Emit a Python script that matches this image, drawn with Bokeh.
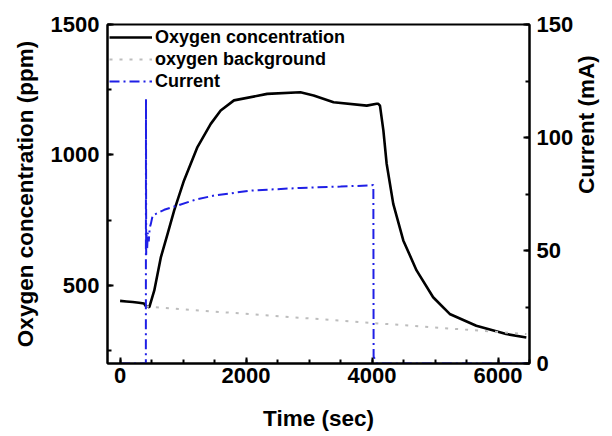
import math
from bokeh.plotting import figure
from bokeh.models import Range1d, LinearAxis, SingleIntervalTicker, Legend, LegendItem
from bokeh.embed import file_html
from bokeh.resources import INLINE

# ---- data ----
oxy_t = [0, 100, 200, 300, 380, 410, 464, 543, 648, 754, 859, 1015, 1228, 1439, 1597, 1808,
         2335, 2862, 3073, 3389, 3916, 4074, 4099, 4126, 4180, 4232, 4337, 4496, 4707, 4970,
         5233, 5655, 6130, 6450]
oxy_ppm = [440, 438, 436, 433, 430, 420, 416, 480, 608, 697, 787, 902, 1030, 1119, 1170, 1209,
           1234, 1240, 1228, 1202, 1189, 1196, 1196, 1189, 1094, 966, 812, 672, 557, 454,
           390, 345, 313, 300]

bg_t = [410, 6450]
bg_ppm = [418, 313]

cur_t = [0, 405, 409, 411, 414, 420, 430, 440, 455, 470, 490, 517, 700, 912, 1200, 1491,
         2071, 2335, 2862, 3500, 3968, 4021, 4025, 4080, 6450]
cur_mA = [0, 0, 0, 117, 48, 57, 51, 58, 54, 60, 62, 65.5, 68, 69.9, 72.5, 74.3,
          76.5, 76.9, 77.7, 78.3, 78.8, 79, 3, 0, 0]

FONT = "Liberation Sans"

p = figure(frame_width=422, frame_height=339, output_backend="svg", toolbar_location=None,
           x_range=Range1d(-200, 6500), y_range=Range1d(200, 1500),
           min_border_left=107, min_border_right=82, min_border_top=24, min_border_bottom=68)
p.extra_y_ranges = {"cur": Range1d(0, 150)}

p.xgrid.visible = False
p.ygrid.visible = False
p.outline_line_color = "black"
p.outline_line_width = 2

l_ox = p.line(oxy_t, oxy_ppm, line_color="black", line_width=2.6)
l_bg = p.line(bg_t, bg_ppm, line_color="#bdbdbd", line_width=2, line_dash="3 7")
l_cur = p.line(cur_t, cur_mA, line_color="#1f1fe6", line_width=2, line_dash="10 4 2 4",
               y_range_name="cur")

def style(ax, interval, minor):
    ax.ticker = SingleIntervalTicker(interval=interval, num_minor_ticks=minor)
    ax.axis_line_width = 2
    ax.major_tick_line_width = 2
    ax.minor_tick_line_width = 2
    ax.major_tick_in = 6
    ax.major_tick_out = 0
    ax.minor_tick_in = 4
    ax.minor_tick_out = 0
    ax.major_label_text_font = FONT
    ax.major_label_text_font_style = "bold"
    ax.major_label_text_font_size = "22px"
    ax.major_label_text_color = "black"
    ax.axis_label_text_font = FONT
    ax.axis_label_text_font_style = "bold"
    ax.axis_label_text_font_size = "22.5px"
    ax.axis_label_text_color = "black"

xa = p.xaxis[0]
style(xa, 2000, 4)
xa.axis_label = "Time (sec)"
xa.major_label_standoff = 4
xa.axis_label_standoff = 20

ya = p.yaxis[0]
style(ya, 500, 2)
ya.axis_label = "Oxygen concentration (ppm)"
ya.major_label_standoff = 8
ya.axis_label_standoff = 10

ra = LinearAxis(y_range_name="cur", axis_label="Current (mA)")
style(ra, 50, 2)
ra.major_label_standoff = 7
ra.axis_label_standoff = 10
ra.axis_label_orientation = math.pi / 2
p.add_layout(ra, "right")

legend = Legend(items=[LegendItem(label="Oxygen concentration", renderers=[l_ox]),
                       LegendItem(label="oxygen background", renderers=[l_bg]),
                       LegendItem(label="Current", renderers=[l_cur])],
                location="top_left")
legend.margin = 0
legend.padding = 2
legend.spacing = 0
legend.glyph_width = 43
legend.glyph_height = 22
legend.label_height = 22
legend.label_standoff = 3
legend.label_text_font = FONT
legend.label_text_font_style = "bold"
legend.label_text_font_size = "18px"
legend.label_text_color = "black"
legend.background_fill_alpha = 0
legend.border_line_alpha = 0
p.add_layout(legend)

open("out.html", "w").write(file_html(p, INLINE))
